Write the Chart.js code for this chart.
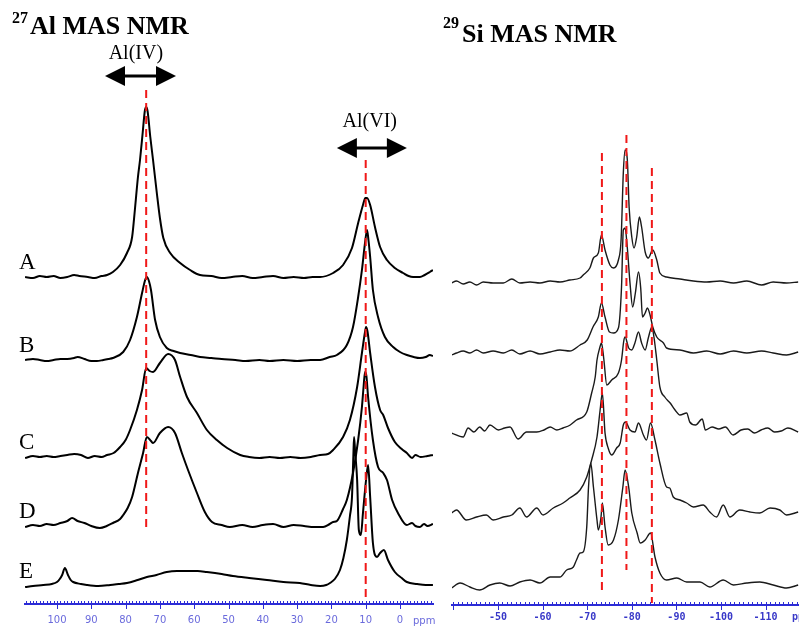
<!DOCTYPE html>
<html>
<head>
<meta charset="utf-8">
<script src="https://cdn.jsdelivr.net/npm/chart.js@4.4.0/dist/chart.umd.min.js"></script>
<style>
html, body { margin: 0; padding: 0; background: #fff; }
#wrap { position: relative; width: 799px; height: 627px; overflow: hidden; }
#al { position: absolute; left: 0; top: 0; }
#si { position: absolute; left: 440px; top: 0; }
</style>
</head>
<body>
<div id="wrap">
  <canvas id="al" width="440" height="627"></canvas>
  <canvas id="si" width="359" height="627"></canvas>
</div>
<script>
// 27Al spectra: [ppm, intensity above own baseline]
const alA = [[109.3,0],[107,-1],[105,1],[103,0],[101,1],[99,-1],[97,0],[95,2],[93.5,1],[91,0],[89,-1],[87,1],[85.4,2],[83.7,5],[81.6,12],[79.6,24],[78.1,40],[77.3,67],[76.4,100],[75.8,117],[75,145],[74.4,166],[74,170],[73.6,166],[72.8,140],[72,117],[70.9,84],[70,59],[69,39],[67,24],[64.1,14],[61.2,7],[58.3,2],[55,1],[52,-1],[49,0],[46,1],[43,-1],[40,0],[37,1],[34,-1],[31,0],[28,-1],[25.5,0],[23.3,0],[19.5,4],[16.6,12],[14,29],[12.2,54],[10.8,72],[10.1,79],[9.6,79],[8.7,72],[7.3,50],[5.8,30],[3.8,17],[1.5,9],[-0.9,4],[-2.5,1],[-3.8,0],[-5.8,0],[-7.2,2],[-8.7,5],[-9.6,7]];
const alB = [[109.3,0],[107,1],[105,0],[103,-1],[101,0],[99,1],[97,1],[95,2],[94,3],[92,1],[90,-1],[88.4,-1],[86.5,0],[85,1],[83.7,2],[80.7,8],[78.7,20],[76.7,43],[75.2,67],[74.3,80],[73.8,83],[73.2,79],[72.6,70],[71.4,40],[70,23],[68,12],[66,9],[64.1,7],[61,5],[58.3,3],[55,2],[52,1],[48,0],[45,-1],[41,0],[38,-1],[34,0],[30,-1],[26,0],[23.3,0],[20.5,3],[18.4,5],[15.5,15],[13.7,33],[12.2,63],[11.1,90],[10.2,117],[9.6,130],[9.2,120],[8.7,103],[7.9,70],[6.4,43],[4.4,23],[2,13],[0,8],[-2,5],[-4,3],[-5.8,2],[-7.5,3],[-8.7,5],[-9.6,4]];
const alC = [[109.3,-1],[107,1],[105,0],[103,1],[101,0],[99,1],[97,2],[95,3],[93,2],[91,-1],[89,1],[87,0],[85.4,2],[83.5,4],[81.6,10],[80,17],[78.7,27],[76.7,47],[75.2,67],[74,89],[73,86],[72,85],[70,94],[67.6,103],[65.6,97],[64.1,80],[62.1,60],[59.2,44],[56.3,27],[53.4,17],[50.4,9],[46.6,2],[44,0],[41,-1],[38,0],[35,-1],[32,0],[29,-1],[26,0],[23.3,2],[21,3],[19.5,7],[16.6,20],[14.6,37],[12.5,70],[11.1,104],[10.2,125],[9.9,130],[9.5,126],[8.7,104],[7.3,70],[5.8,47],[4.9,42],[3.5,29],[1.5,15],[-0.5,8],[-2,4],[-3.5,-1],[-4.5,2],[-6,0],[-8,1],[-9.6,2]];
const alD = [[109.3,-1],[107,1],[105,0],[103,2],[101,1],[99,3],[97,5],[95.6,8],[94,5],[92,3],[90,0],[87.5,-2],[85.5,0],[83.7,3],[81.6,7],[80.7,11],[79.4,18],[78.1,29],[76.4,53],[74.9,73],[73.8,89],[72.6,85],[72,83],[70,93],[67.6,99],[65.6,93],[63.6,73],[61.8,56],[59.2,33],[56.9,14],[54.8,4],[52,1],[49.6,-1],[46,1],[43,-1],[40,1],[37,2],[34,-1],[31,1],[28,0],[25,-1],[22.4,-1],[20.5,2],[19.5,4],[18.4,5],[16.6,17],[15.5,26],[13.7,53],[12.2,86],[11.1,119],[10.6,140],[10.2,154],[9.8,150],[9.3,129],[7.9,86],[6.4,59],[4.9,53],[3.8,46],[2.3,26],[0.6,13],[-2,1],[-3.5,3],[-4.5,0],[-5.8,-1],[-7,2],[-8,0],[-9.6,2]];
const alE = [[109.3,-1],[107,0],[104,1],[101.5,2],[100,4],[99.2,7],[98.5,11],[97.7,18],[96.8,11],[96,6],[95.3,4],[93,2],[91.3,1],[88,0],[84.5,1],[82,2],[79.6,3],[76.5,6],[73.8,9],[71,11],[68,14],[65,15],[62.1,15],[59,15],[56.3,14],[52,12],[48.7,10],[44,8],[38.8,6],[34,4],[29.2,3],[26,1],[23.3,0],[21.5,1],[20.4,3],[19,7],[17.5,16],[16.5,28],[15.5,46],[14.6,70],[14,89],[13.6,130],[13.4,149],[13.1,135],[12.5,106],[12,56],[11.4,51],[10.8,73],[9.9,106],[9.3,121],[8.7,89],[7.9,43],[6.7,29],[5.8,33],[4.7,36],[3.5,26],[1.5,14],[-0.5,8],[-2,4],[-5,2],[-7.5,1],[-9.6,1]];
const alSeries = [alA, alB, alC, alD, alE];
const alNames = ['A', 'B', 'C', 'D', 'E'];
const alOffsets = [327, 244, 147, 78, 18];
const alTicks = [100, 90, 80, 70, 60, 50, 40, 30, 20, 10, 0];
const alMarks = [74, 10];
const alMarkTop = [514, 444];
const alMarkBottom = [74, 6];

// 29Si spectra: [ppm, intensity above own baseline]
const siA = [[-39.6,0],[-40.7,2],[-42.2,-1],[-43.7,1],[-45.2,-2],[-46.7,1],[-48.9,0],[-51.2,0],[-53.1,4],[-54.9,0],[-57.2,1],[-59.4,0],[-61.7,2],[-63.9,1],[-66.1,3],[-68.4,5],[-69.1,8],[-70.6,15],[-71.4,25],[-72.5,30],[-73.2,48],[-74,33],[-75.1,18],[-75.9,15],[-77,23],[-77.6,43],[-78.1,110],[-78.5,133],[-79,123],[-79.4,76],[-80,46],[-80.5,35],[-81.1,46],[-81.7,66],[-82.2,56],[-83,31],[-83.7,25],[-84.7,33],[-85.6,23],[-86.3,10],[-87.8,6],[-90.8,4],[-93.8,2],[-96.8,1],[-99.8,2],[-102.8,0],[-105.8,2],[-109.1,-2],[-111.7,1],[-114.7,0],[-117.3,1]];
const siB = [[-39.6,-2],[-40.7,0],[-42.2,2],[-43.7,0],[-45.2,3],[-46.7,0],[-48.9,2],[-51.2,0],[-53.1,3],[-54.9,-1],[-57.2,2],[-59.4,-1],[-61.7,1],[-63.9,3],[-66.1,2],[-68.4,8],[-70,13],[-71.3,26],[-72.5,36],[-73.2,50],[-74,36],[-75,21],[-75.9,20],[-77,25],[-77.7,66],[-78.1,123],[-78.5,125],[-79,105],[-79.6,70],[-80.2,46],[-80.8,60],[-81.5,81],[-82,65],[-82.4,36],[-83,40],[-83.5,45],[-84.1,38],[-84.7,26],[-85.6,16],[-87.1,10],[-87.8,5],[-90.8,3],[-93.8,0],[-96.8,2],[-99.8,-1],[-102.8,2],[-105.8,0],[-109.1,2],[-111.7,0],[-114.7,-2],[-117.3,1]];
const siC = [[-39.6,0],[-42.2,-4],[-43.3,5],[-44.6,1],[-45.9,6],[-47,2],[-48.2,8],[-50.1,3],[-51.5,5],[-52.7,6],[-54.5,-6],[-56.4,1],[-58.7,1],[-60.3,3],[-61.7,6],[-63.2,3],[-64.6,5],[-66.2,8],[-67.6,13],[-69.9,21],[-71,40],[-71.8,56],[-72.2,73],[-72.8,85],[-73.2,90],[-73.7,75],[-74.4,48],[-75.5,53],[-77,60],[-77.7,73],[-78.2,92],[-78.5,96],[-79.3,85],[-80,83],[-80.7,90],[-81.5,101],[-82.2,90],[-83,83],[-83.7,95],[-84.5,106],[-85,95],[-85.6,73],[-86.3,46],[-87.4,36],[-88.6,30],[-89.7,23],[-90.8,18],[-92.3,20],[-93,11],[-94.3,8],[-95.8,14],[-96.5,3],[-98,6],[-99.5,4],[-101,6],[-102.7,-2],[-104.5,3],[-106,4],[-107.5,0],[-109,3],[-110.5,5],[-112,1],[-113.5,2],[-115,5],[-117.3,1]];
const siD = [[-39.6,0],[-40.7,3],[-42.9,-7],[-45.2,-4],[-47.4,-2],[-48.9,-7],[-51.2,-4],[-53.1,-2],[-54.9,5],[-56.4,-4],[-58.7,5],[-60.1,-2],[-62.4,5],[-64.6,10],[-66.1,15],[-68.4,23],[-69.9,36],[-71,53],[-72.2,76],[-72.9,103],[-73.4,120],[-74,80],[-74.7,65],[-75.5,58],[-76.6,65],[-77.4,70],[-78.1,88],[-78.6,91],[-79.6,83],[-80.7,81],[-81.5,90],[-82.6,78],[-83.3,73],[-84.2,90],[-85.2,73],[-86.3,50],[-87.8,26],[-88.5,25],[-89.3,16],[-90.8,13],[-92.3,10],[-93.8,6],[-96,8],[-97.5,1],[-99,-4],[-100.5,8],[-102,-4],[-104.2,3],[-106.5,1],[-108.7,0],[-111,5],[-113.2,3],[-114.7,-2],[-117.3,1]];
const siE = [[-39.6,-1],[-41.5,4],[-43.7,0],[-45.9,-3],[-48.2,2],[-50.4,4],[-52.7,1],[-54.9,5],[-57.2,7],[-59.4,4],[-61.7,10],[-63.9,10],[-65.4,17],[-66.9,20],[-67.6,27],[-68.4,34],[-69.1,35],[-69.9,60],[-70.3,100],[-70.8,124],[-71.4,100],[-72.2,67],[-72.5,57],[-73.1,70],[-73.4,84],[-74,60],[-74.7,42],[-75.9,47],[-77,67],[-78,100],[-78.5,117],[-79.3,100],[-80,74],[-81.2,54],[-81.9,44],[-83,47],[-84.2,54],[-85.2,30],[-86.3,14],[-87.8,7],[-90.1,9],[-92.3,5],[-95.3,5],[-97.5,0],[-100.5,7],[-102.8,2],[-105.8,4],[-108.7,5],[-111.7,2],[-114.7,-1],[-117.3,2]];
const siSeries = [siA, siB, siC, siD, siE];
const siOffsets = [322, 252, 172, 92, 18];
const siTicks = [-50, -60, -70, -80, -90, -100, -110];
const siMarks = [-73.3, -78.8, -84.5];
const siMarkTop = [452, 470, 437];
const siMarkBottom = [15, 35, 2];

const BLUE = '#2b2bd6';
const RED = '#f01818';

function spectrum(points, offset, width, color) {
  return {
    data: points.map(p => ({ x: p[0], y: p[1] + offset })),
    borderColor: color, borderWidth: width, pointRadius: 0, fill: false,
    cubicInterpolationMode: 'monotone', order: 1
  };
}
function marker(ppm, top, bottom) {
  return {
    data: [{ x: ppm, y: top }, { x: ppm, y: bottom }],
    borderColor: RED, borderWidth: 2, borderDash: [8, 5], pointRadius: 0, fill: false, order: 0
  };
}
function drawAxisTicks(chart) {
  const { ctx, chartArea } = chart;
  const xs = chart.scales.x;
  const y0 = chartArea.bottom;
  ctx.save();
  ctx.strokeStyle = BLUE;
  ctx.lineWidth = 1;
  for (let v = Math.ceil(xs.min); v <= Math.floor(xs.max); v++) {
    const px = Math.round(xs.getPixelForValue(v)) + 0.5;
    ctx.beginPath();
    if (v % 10 === 0) { ctx.moveTo(px, y0 - 3); ctx.lineTo(px, y0 + 5); }
    else { ctx.moveTo(px, y0 - 3); ctx.lineTo(px, y0); }
    ctx.stroke();
  }
  ctx.restore();
}
function doubleArrow(ctx, x1, x2, y) {
  const hl = 20, hh = 10;
  ctx.fillStyle = '#000';
  ctx.strokeStyle = '#000';
  ctx.lineWidth = 3;
  ctx.beginPath(); ctx.moveTo(x1 + hl - 2, y); ctx.lineTo(x2 - hl + 2, y); ctx.stroke();
  ctx.beginPath(); ctx.moveTo(x1, y); ctx.lineTo(x1 + hl, y - hh); ctx.lineTo(x1 + hl, y + hh); ctx.closePath(); ctx.fill();
  ctx.beginPath(); ctx.moveTo(x2, y); ctx.lineTo(x2 - hl, y - hh); ctx.lineTo(x2 - hl, y + hh); ctx.closePath(); ctx.fill();
}

const alDeco = {
  id: 'alDeco',
  afterDraw(chart) {
    drawAxisTicks(chart);
    const { ctx } = chart;
    const xs = chart.scales.x, ys = chart.scales.y;
    ctx.save();
    ctx.fillStyle = '#000';
    ctx.textAlign = 'left';
    ctx.textBaseline = 'alphabetic';
    ctx.font = 'bold 16px "Liberation Serif"';
    ctx.fillText('27', 12, 23);
    ctx.font = 'bold 26px "Liberation Serif"';
    ctx.fillText('Al MAS NMR', 30, 34);
    ctx.font = '20px "Liberation Serif"';
    ctx.textAlign = 'center';
    ctx.fillText('Al(IV)', xs.getPixelForValue(77), 59);
    ctx.fillText('Al(VI)', xs.getPixelForValue(8.8), 127);
    doubleArrow(ctx, xs.getPixelForValue(86), xs.getPixelForValue(65.3), 76);
    doubleArrow(ctx, xs.getPixelForValue(18.4), xs.getPixelForValue(-2), 148);
    ctx.textAlign = 'left';
    ctx.font = '23px "Liberation Serif"';
    alNames.forEach((n, i) => {
      ctx.fillText(n, 19, ys.getPixelForValue(alOffsets[i]) - 8);
    });
    ctx.fillStyle = '#6a6adc';
    ctx.font = '10px "DejaVu Sans"';
    ctx.fillText('ppm', 413, 624);
    ctx.restore();
  }
};

const siDeco = {
  id: 'siDeco',
  afterDraw(chart) {
    drawAxisTicks(chart);
    const { ctx } = chart;
    ctx.save();
    ctx.fillStyle = '#000';
    ctx.textAlign = 'left';
    ctx.font = 'bold 16px "Liberation Serif"';
    ctx.fillText('29', 3, 28);
    ctx.font = 'bold 26px "Liberation Serif"';
    ctx.fillText('Si MAS NMR', 22, 42);
    ctx.fillStyle = '#3838c8';
    ctx.font = 'bold 10px "DejaVu Sans Mono"';
    ctx.fillText('ppm', 352, 620);
    ctx.restore();
  }
};

const alData = [];
alMarks.forEach((m, i) => alData.push(marker(m, alMarkTop[i], alMarkBottom[i])));
alSeries.forEach((s, i) => alData.push(spectrum(s, alOffsets[i], 2, '#000')));

const siData = [];
siMarks.forEach((m, i) => siData.push(marker(m, siMarkTop[i], siMarkBottom[i])));
siSeries.forEach((s, i) => siData.push(spectrum(s, siOffsets[i], 1.4, '#1a1a1a')));

new Chart(document.getElementById('al'), {
  type: 'line',
  data: { datasets: alData },
  options: {
    responsive: false, animation: false, devicePixelRatio: 1,
    layout: { padding: { left: 25, right: 7, top: 0, bottom: 0 } },
    plugins: { legend: { display: false }, tooltip: { enabled: false } },
    scales: {
      x: {
        type: 'linear', reverse: true, min: -9.62, max: 109.33,
        afterBuildTicks: s => { s.ticks = alTicks.map(v => ({ value: v })); },
        afterFit: s => { s.height = 23; },
        grid: { drawOnChartArea: false, drawTicks: true, tickLength: 8, color: 'rgba(0,0,0,0)' },
        border: { display: true, color: BLUE, width: 2 },
        ticks: { padding: 2, color: '#6a6adc', font: { family: 'DejaVu Sans', size: 10 }, maxRotation: 0, autoSkip: false }
      },
      y: { display: false, min: 0, max: 604 }
    }
  },
  plugins: [alDeco]
});

new Chart(document.getElementById('si'), {
  type: 'line',
  data: { datasets: siData },
  options: {
    responsive: false, animation: false, devicePixelRatio: 1,
    layout: { padding: { left: 12, right: 0, top: 0, bottom: 0 } },
    plugins: { legend: { display: false }, tooltip: { enabled: false } },
    scales: {
      x: {
        type: 'linear', reverse: true, min: -117.49, max: -39.69,
        afterBuildTicks: s => { s.ticks = siTicks.map(v => ({ value: v })); },
        afterFit: s => { s.height = 22; },
        grid: { drawOnChartArea: false, drawTicks: true, tickLength: 5, color: 'rgba(0,0,0,0)' },
        border: { display: true, color: BLUE, width: 2 },
        ticks: { padding: 1, color: '#3838c8', font: { family: 'DejaVu Sans Mono', size: 10, weight: 'bold' }, maxRotation: 0, autoSkip: false }
      },
      y: { display: false, min: 0, max: 605 }
    }
  },
  plugins: [siDeco]
});
</script>
</body>
</html>
